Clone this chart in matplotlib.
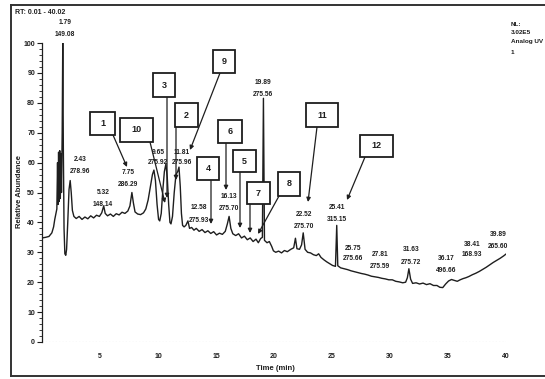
import matplotlib
matplotlib.use('Agg')
import matplotlib.pyplot as plt
from matplotlib.lines import Line2D
from matplotlib.patches import Rectangle

plt.rcParams['font.family'] = ['Liberation Sans', 'DejaVu Sans']

# ---------------- data ----------------
rt = [0.00, 0.30, 0.60, 0.85, 1.00, 1.10, 1.20, 1.28, 1.34, 1.38, 1.43, 1.48, 1.53, 1.58, 1.63, 1.68,
      1.74, 1.79, 1.84, 1.90, 1.97, 2.05, 2.12, 2.22, 2.33, 2.43, 2.52, 2.62, 2.75,
      2.95, 3.20, 3.45, 3.70, 3.95, 4.20, 4.45, 4.70, 4.95, 5.15, 5.32, 5.45, 5.65, 5.90, 6.15,
      6.40, 6.65, 6.90, 7.15, 7.40, 7.58, 7.75, 7.88, 8.02, 8.25, 8.50, 8.75, 8.95, 9.15, 9.35,
      9.52, 9.65, 9.78, 9.92, 10.05, 10.15, 10.28, 10.42, 10.55, 10.68, 10.80, 10.92, 11.03,
      11.12, 11.25, 11.40, 11.55, 11.70, 11.81, 11.92, 12.02, 12.12, 12.25, 12.40, 12.58, 12.72,
      12.90, 13.10, 13.30, 13.55, 13.80, 14.05, 14.30, 14.55, 14.80, 15.05, 15.30, 15.55, 15.80,
      15.98, 16.13, 16.28, 16.45, 16.70, 16.95, 17.20, 17.45, 17.70, 17.95, 18.20, 18.45, 18.65,
      18.85, 19.00, 19.09, 19.18, 19.40, 19.60, 19.80, 19.95, 20.15, 20.40, 20.65, 20.90, 21.15,
      21.45, 21.70, 21.85, 21.98, 22.20, 22.38, 22.52, 22.68, 22.90, 23.15, 23.40, 23.65, 23.85,
      24.05, 24.30, 24.55, 24.80, 25.05, 25.30, 25.41, 25.50, 25.75, 26.05, 26.35, 26.65, 26.95,
      27.25, 27.55, 27.81, 28.10, 28.40, 28.70, 29.00, 29.30, 29.60, 29.90, 30.20, 30.50, 30.80,
      31.10, 31.35, 31.50, 31.63, 31.78, 31.95, 32.25, 32.55, 32.85, 33.15, 33.45, 33.75, 34.05,
      34.30, 34.55, 34.80, 35.05, 35.30, 35.55, 35.80, 36.05, 36.30, 36.55, 36.80, 37.10, 37.40,
      37.70, 38.00, 38.30, 38.60, 38.90, 39.20, 39.50, 39.80, 40.00]
abundance = [34.8, 35.0, 35.3, 36.5, 38.5, 41.0, 43.0, 44.5, 60.0, 46.0, 63.5, 47.0, 64.0, 48.0, 63.0, 50.0,
             70.0, 100.0, 65.0, 38.0, 29.5, 29.0, 31.0, 40.0, 51.0, 54.0, 50.0, 44.0, 42.0,
             41.3, 42.0, 41.0, 41.8, 41.2, 42.2, 41.5, 42.4, 42.0, 43.2, 45.5, 43.0, 42.2, 42.8, 42.0,
             42.9, 42.5, 43.4, 43.0, 43.8, 45.5, 50.0, 46.5, 43.5, 42.8, 42.6, 43.2, 44.5, 47.5, 52.0,
             56.0, 57.5, 54.0, 46.0, 41.0, 40.5, 43.0, 51.0, 57.0, 59.5, 55.0, 46.0, 40.0,
             39.5, 42.0, 50.0, 56.0, 57.0, 58.5, 52.0, 43.0, 39.0, 38.5, 39.0, 40.5, 38.0,
             38.3, 37.4, 38.0, 37.0, 37.6, 36.6, 37.2, 36.3, 36.9, 35.8, 36.4, 36.0, 37.0,
             39.5, 42.0, 38.0, 36.2, 35.6, 36.2, 34.8, 35.4, 34.2, 34.8, 33.6, 34.4, 33.2,
             34.6, 35.0, 81.5, 34.0, 33.2, 33.6, 32.0, 30.5, 30.0, 30.4, 29.8, 30.6, 30.2,
             31.0, 31.5, 34.7, 31.2, 31.0, 32.5, 36.5, 31.0, 30.0, 29.8, 29.2, 28.9, 29.5,
             28.3, 27.5, 26.8, 26.2, 25.6, 25.3, 39.0, 25.5, 24.8, 24.5, 24.2, 23.8, 23.5,
             23.2, 22.9, 22.7, 22.4, 22.0, 21.8, 21.6, 21.3, 21.1, 20.8, 20.8, 20.3, 20.1,
             19.8, 20.0, 21.5, 24.5, 21.0, 19.6, 19.8, 19.4, 19.7, 19.2, 19.5, 18.9, 18.9,
             18.3, 18.2, 19.4, 20.4, 20.9, 20.6, 20.3, 20.8, 21.2, 21.5, 21.9, 22.5, 23.0,
             23.6, 24.3, 25.0, 25.8, 26.6, 27.3, 28.0, 28.8, 29.4]

label_rt = ['1.79', '2.43', '5.32', '7.75', '9.65', '11.81', '12.58', '16.13', '19.89',
            '22.52', '25.41', '25.75', '27.81', '31.63', '36.17', '38.41', '39.89']
label_mz = ['149.08', '278.96', '148.14', '286.29', '275.92', '275.96', '275.93', '275.70', '275.56',
            '275.70', '315.15', '275.66', '275.59', '275.72', '496.66', '168.93', '265.60']
compound_ids = ['1', '10', '3', '2', '9', '4', '6', '5', '7', '8', '11', '12']
y_ticks = [0, 10, 20, 30, 40, 50, 60, 70, 80, 90, 100]
x_ticks = [5, 10, 15, 20, 25, 30, 35, 40]
x_range = (0.01, 40.02)

# ---------------- layout (pixels of the 545x379 picture) ----------------
W, H = 545, 379
def fx(x):
    return x / W
def fy(y):
    return 1 - y / H

# centre x, y of first line, y of second line
label_pos = [(65, 23, 35), (80, 160, 172), (103, 193, 204), (128, 173, 185), (158, 152, 163),
             (182, 152, 163), (199, 207, 220), (229, 197, 208), (263, 83, 94), (304, 215, 227),
             (337, 207, 219), (353, 248, 258), (380, 255, 266), (411, 249, 262), (446, 259, 271),
             (472, 244, 255), (498, 235, 247)]
# box x0, y0, x1, y1, arrow start x, y, arrow tip x, y
box_pos = [(90, 112, 115, 135, 113, 135, 127, 167),
           (120, 118, 153, 142, 150, 142, 165, 203),
           (153, 73, 175, 97, 167, 97, 167, 198),
           (175, 103, 198, 127, 176, 127, 176, 180),
           (213, 50, 235, 73, 220, 73, 190, 150),
           (197, 157, 219, 180, 211, 180, 211, 224),
           (218, 120, 242, 143, 226, 143, 226, 190),
           (233, 150, 256, 172, 240, 172, 240, 228),
           (247, 182, 270, 204, 250, 204, 250, 233),
           (278, 172, 300, 196, 279, 196, 258, 234),
           (306, 103, 338, 127, 317, 127, 308, 202),
           (360, 135, 393, 157, 365, 157, 347, 200)]

ink = '#1e1e1e'
fig = plt.figure(figsize=(5.45, 3.79), dpi=100)
fig.patch.set_facecolor('white')
ax = fig.add_axes([fx(42), fy(342), fx(506.2) - fx(42), fy(43) - fy(342)])
ax.set_facecolor('none')
ax.plot(rt, abundance, color=ink, lw=1.0, solid_joinstyle='round')
ax.set_xlim(0, x_range[1])
ax.set_ylim(0, 100)
for s in ['top', 'right', 'bottom']:
    ax.spines[s].set_visible(False)
ax.spines['left'].set_linewidth(0.9)
ax.spines['left'].set_color(ink)
ax.axhline(0, color='#9a9a9a', lw=0.8, ls=(0, (1, 2)))
ax.set_yticks(y_ticks)
ax.set_yticks(list(range(0, 101, 2)), minor=True)
ax.set_xticks(x_ticks)
ax.tick_params(axis='y', which='major', length=3.5, width=0.8, labelsize=5, pad=1.5, colors=ink)
ax.tick_params(axis='y', which='minor', length=2, width=0.6, colors=ink)
ax.tick_params(axis='x', length=0, labelsize=5, pad=8, colors=ink)
for lab in ax.get_xticklabels() + ax.get_yticklabels():
    lab.set_fontweight('bold')

fig.text(fx(20), fy(192), 'Relative Abundance', rotation=90, ha='center', va='center',
         fontsize=5.5, fontweight='bold', color=ink)
fig.text(fx(275), fy(368), 'Time (min)', ha='center', va='center', fontsize=5.5,
         fontweight='bold', color=ink)
fig.text(fx(15), fy(12), 'RT: ' + f'{x_range[0]:.2f}' + ' - ' + f'{x_range[1]:.2f}', ha='left',
         va='center', fontsize=5, fontweight='bold', color=ink)
for txt, yy in zip(['NL:', '3.02E5', 'Analog UV', '1'], [24, 33, 42, 52]):
    fig.text(fx(511), fy(yy), txt, ha='left', va='center', fontsize=4.6, fontweight='bold', color=ink)

# peak labels
for t, m, (cx, y1, y2) in zip(label_rt, label_mz, label_pos):
    fig.text(fx(cx), fy(y1), t, ha='center', va='center', fontsize=4.8, fontweight='bold', color=ink)
    fig.text(fx(cx), fy(y2), m, ha='center', va='center', fontsize=4.8, fontweight='bold', color=ink)

# numbered boxes with arrows
for cid, (x0, y0, x1, y1, sx, sy, tx, ty) in zip(compound_ids, box_pos):
    ax.annotate('', xy=(fx(tx), fy(ty)), xycoords='figure fraction',
                xytext=(fx(sx), fy(sy)), textcoords='figure fraction',
                arrowprops=dict(arrowstyle='-|>', color=ink, lw=0.9, mutation_scale=6,
                                shrinkA=0, shrinkB=0))
    fig.add_artist(Rectangle((fx(x0), fy(y1)), fx(x1) - fx(x0), fy(y0) - fy(y1),
                             transform=fig.transFigure, facecolor='white', edgecolor=ink, lw=1.3))
    fig.text(fx((x0 + x1) / 2), fy((y0 + y1) / 2), cid, ha='center', va='center',
             fontsize=6.5, fontweight='bold', color=ink)

# outer frame of the scanned page
fig.add_artist(Line2D([fx(11), fx(11)], [fy(5), fy(376)], transform=fig.transFigure, color='#333333', lw=1.4))
fig.add_artist(Line2D([fx(11), 1], [fy(5), fy(5)], transform=fig.transFigure, color='#333333', lw=1.4))
fig.add_artist(Line2D([fx(11), 1], [fy(376), fy(376)], transform=fig.transFigure, color='#333333', lw=1.4))

fig.savefig('out.png', dpi=100)
